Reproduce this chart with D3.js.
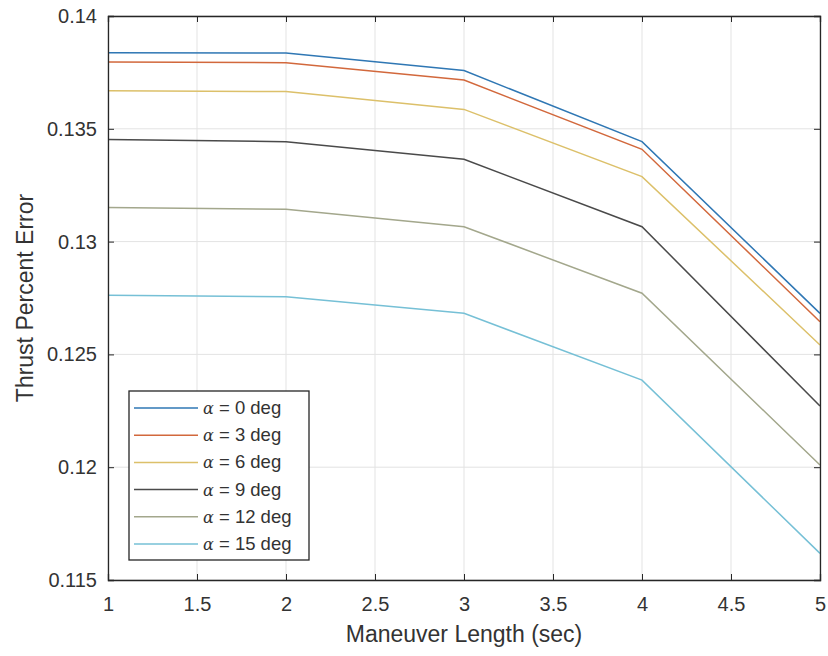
<!DOCTYPE html>
<html>
<head>
<meta charset="utf-8">
<script src="https://cdn.jsdelivr.net/npm/d3@7"></script>
<style>
  html, body { margin: 0; padding: 0; background: #fff; }
  svg { display: block; font-family: "Liberation Sans", Arial, sans-serif; }
</style>
</head>
<body>
<svg id="chart" width="828" height="656"></svg>
<script>
// Maneuver lengths (sec)
const lengths = [1, 2, 3, 4, 5];

// Thrust percent error for each angle of attack
const alpha0  = [0.13837, 0.13836, 0.13758, 0.13443, 0.12682];
const alpha3  = [0.13796, 0.13793, 0.13716, 0.13409, 0.12645];
const alpha6  = [0.13669, 0.13665, 0.13586, 0.13288, 0.12542];
const alpha9  = [0.13453, 0.13443, 0.13365, 0.13066, 0.12271];
const alpha12 = [0.13151, 0.13143, 0.13066, 0.12771, 0.12010];
const alpha15 = [0.12762, 0.12756, 0.12682, 0.12386, 0.11618];

const seriesNames = ["0", "3", "6", "9", "12", "15"];
const seriesColors = ["#2f77b4", "#d2683c", "#dcc06a", "#4a4a4a", "#a3a78c", "#76c0d6"];

const xTicks = [1, 1.5, 2, 2.5, 3, 3.5, 4, 4.5, 5];
const xTickLabels = ["1", "1.5", "2", "2.5", "3", "3.5", "4", "4.5", "5"];
const yTicks = [0.115, 0.12, 0.125, 0.13, 0.135, 0.14];
const yTickLabels = ["0.115", "0.12", "0.125", "0.13", "0.135", "0.14"];

const series = [alpha0, alpha3, alpha6, alpha9, alpha12, alpha15].map((vals, i) => ({
  name: seriesNames[i],
  color: seriesColors[i],
  points: lengths.map((x, j) => ({ x, y: vals[j] }))
}));

const svg = d3.select("#chart");
const margin = { left: 108, right: 8, top: 16, bottom: 76 };
const W = 828, H = 656;
const x = d3.scaleLinear().domain([1, 5]).range([margin.left, W - margin.right]);
const y = d3.scaleLinear().domain([0.115, 0.14]).range([H - margin.bottom, margin.top]);

const axisColor = "#262626";

// grid
const grid = svg.append("g");
grid.selectAll(".gx").data(xTicks).join("line")
  .attr("x1", d => x(d)).attr("x2", d => x(d))
  .attr("y1", y.range()[1]).attr("y2", y.range()[0])
  .attr("stroke", "#e3e3e3").attr("stroke-width", 1);
grid.selectAll(".gy").data(yTicks).join("line")
  .attr("y1", d => y(d)).attr("y2", d => y(d))
  .attr("x1", x.range()[0]).attr("x2", x.range()[1])
  .attr("stroke", "#e3e3e3").attr("stroke-width", 1);

// data lines
const line = d3.line().x(d => x(d.x)).y(d => y(d.y));
svg.append("g").selectAll("path").data(series).join("path")
  .attr("d", d => line(d.points))
  .attr("fill", "none")
  .attr("stroke", d => d.color)
  .attr("stroke-width", 1.5);

// axes (box with inward ticks on all sides)
const tickLen = 6;
const xAxisB = d3.axisBottom(x).tickValues(xTicks).tickFormat((d, i) => xTickLabels[i]).tickSize(-tickLen).tickPadding(tickLen + 11);
const xAxisT = d3.axisTop(x).tickValues(xTicks).tickFormat("").tickSize(-tickLen);
const yAxisL = d3.axisLeft(y).tickValues(yTicks).tickFormat((d, i) => yTickLabels[i]).tickSize(-tickLen).tickPadding(tickLen + 5);
const yAxisR = d3.axisRight(y).tickValues(yTicks).tickFormat("").tickSize(-tickLen);

function styleAxis(g) {
  g.select(".domain").attr("stroke", axisColor).attr("stroke-width", 1.3);
  g.selectAll(".tick line").attr("stroke", axisColor).attr("stroke-width", 1);
  g.selectAll(".tick text").attr("fill", "#333").style("font-size", "20px")
    .style("font-family", "'Liberation Sans', Arial, sans-serif");
}

svg.append("g").attr("transform", `translate(0,${y.range()[0]})`).call(xAxisB).call(styleAxis);
svg.append("g").attr("transform", `translate(0,${y.range()[1]})`).call(xAxisT).call(styleAxis);
svg.append("g").attr("transform", `translate(${x.range()[0]},0)`).call(yAxisL).call(styleAxis);
svg.append("g").attr("transform", `translate(${x.range()[1]},0)`).call(yAxisR).call(styleAxis);

// axis titles
svg.append("text")
  .attr("x", (x.range()[0] + x.range()[1]) / 2).attr("y", 642)
  .attr("text-anchor", "middle").attr("fill", "#333")
  .style("font-size", "23px").text("Maneuver Length (sec)");
svg.append("text")
  .attr("transform", `translate(33,${(y.range()[0] + y.range()[1]) / 2}) rotate(-90)`)
  .attr("text-anchor", "middle").attr("fill", "#333")
  .style("font-size", "23px").text("Thrust Percent Error");

// legend
const lg = svg.append("g");
const lx = 129, ly = 391, lw = 180, lh = 169;
lg.append("rect").attr("x", lx).attr("y", ly).attr("width", lw).attr("height", lh)
  .attr("fill", "#fff").attr("stroke", axisColor).attr("stroke-width", 1.3);
const rowH = 27.2;
const rows = lg.selectAll(".row").data(series).join("g")
  .attr("transform", (d, i) => `translate(0,${ly + 17 + i * rowH})`);
rows.append("line")
  .attr("x1", lx + 5).attr("x2", lx + 69).attr("y1", 0).attr("y2", 0)
  .attr("stroke", d => d.color).attr("stroke-width", 1.5);
const txt = rows.append("text")
  .attr("x", lx + 74).attr("y", 6)
  .attr("fill", "#333").style("font-size", "18.5px");
txt.append("tspan").style("font-family", "'DejaVu Serif', 'Liberation Serif', serif")
  .style("font-style", "italic").style("font-size", "16px").text("α");
txt.append("tspan").text(d => ` = ${d.name} deg`);
</script>
</body>
</html>
